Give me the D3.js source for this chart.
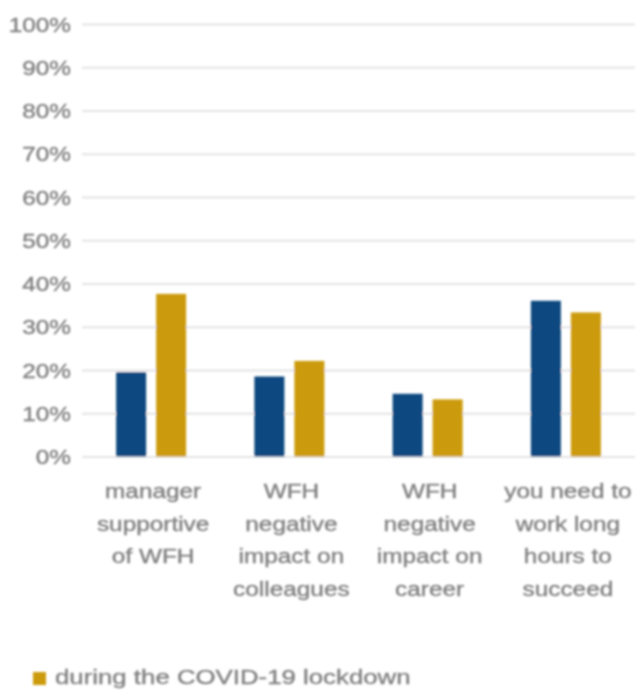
<!DOCTYPE html>
<html>
<head>
<meta charset="utf-8">
<script src="https://cdn.jsdelivr.net/npm/d3@7"></script>
<style>
  html, body { margin: 0; padding: 0; background: #ffffff; }
  svg { display: block; }
  text { font-family: "Liberation Sans", Arial, sans-serif; fill: #808080; stroke: #808080; stroke-width: 0.35px; }
</style>
</head>
<body>
<svg id="chart" width="640" height="693"></svg>
<script>
// Survey answers, share of respondents (%)
const categories = ["manager", "negColleagues", "negCareer", "longHours"];
const categoryLines = [
  ["manager", "supportive", "of WFH"],
  ["WFH", "negative", "impact on", "colleagues"],
  ["WFH", "negative", "impact on", "career"],
  ["you need to", "work long", "hours to", "succeed"]
];
const seriesKeys = ["before", "during"];
const beforeValues = [19.5, 18.5, 14.5, 36.0];
const duringValues = [37.6, 22.1, 13.2, 33.3];
const yTicks = [0, 10, 20, 30, 40, 50, 60, 70, 80, 90, 100];
const legendLabel = "during the COVID-19 lockdown";

const colors = { before: "#0e4a80", during: "#cc9b0a" };
const stretch = 1.25;          // horizontal text stretch
const fontSize = 19.5;

const svg = d3.select("#chart");

// soft rendering of the whole chart
const defs = svg.append("defs");
defs.append("filter").attr("id", "soft")
  .attr("x", "-5%").attr("y", "-5%").attr("width", "110%").attr("height", "110%")
  .append("feGaussianBlur").attr("stdDeviation", 0.8);

const root = svg.append("g").attr("filter", "url(#soft)");

const plotLeft = 82, plotRight = 635;
const y = d3.scaleLinear().domain([0, 100]).range([456.5, 24]);
const x0 = d3.scaleBand().domain(categories).range([plotLeft, plotRight]).padding(0);
const x1 = d3.scaleBand().domain(seriesKeys).range([0, x0.bandwidth()])
  .paddingInner(0.25).paddingOuter(0.853);

// y axis with full-width gridlines
const yAxis = d3.axisLeft(y)
  .tickValues(yTicks)
  .tickSize(-(plotRight - plotLeft))
  .tickFormat(d => d + "%");

const ag = root.append("g")
  .attr("transform", `translate(${plotLeft},0)`)
  .call(yAxis);
ag.select(".domain").remove();
ag.selectAll(".tick line").attr("stroke", "#e4e4e4").attr("stroke-width", 2);
ag.selectAll(".tick text")
  .attr("x", 0).attr("dy", "0.36em")
  .attr("transform", `translate(-11,0) scale(${stretch},1)`)
  .attr("text-anchor", "end")
  .style("font-size", fontSize + "px")
  .style("fill", "#808080")
  .attr("font-family", null);

// bars
const rows = categories.map((c, i) => ({ cat: c, before: beforeValues[i], during: duringValues[i] }));
const groups = root.append("g").selectAll("g")
  .data(rows).join("g")
  .attr("transform", d => `translate(${x0(d.cat)},0)`);
groups.selectAll("rect")
  .data(d => seriesKeys.map(k => ({ key: k, value: d[k] })))
  .join("rect")
  .attr("x", d => x1(d.key))
  .attr("width", x1.bandwidth())
  .attr("y", d => y(d.value))
  .attr("height", d => y(0) - y(d.value))
  .attr("fill", d => colors[d.key]);

// category labels
const lineGap = 32.7;
const labels = root.append("g").selectAll("g")
  .data(categories).join("g")
  .attr("transform", d => `translate(${x0(d) + x0.bandwidth() / 2 + 2},498) scale(${stretch},1)`);
labels.each(function (d, i) {
  d3.select(this).selectAll("text")
    .data(categoryLines[i]).join("text")
    .attr("x", 0)
    .attr("y", (t, j) => j * lineGap)
    .attr("text-anchor", "middle")
    .style("font-size", fontSize + "px")
    .text(t => t);
});

// legend
const lg = root.append("g").attr("transform", "translate(33,672)");
lg.append("rect").attr("width", 13).attr("height", 13).attr("fill", colors.during);
lg.append("text")
  .attr("transform", `translate(22,11.5) scale(1.29,1)`)
  .style("font-size", "20px")
  .text(legendLabel);
</script>
</body>
</html>
